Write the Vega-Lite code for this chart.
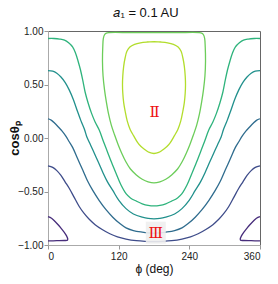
{
"$schema":"https://vega.github.io/schema/vega-lite/v6.json",
"width":212,"height":214,
"autosize":{"type":"none"},
"padding":{"left":48,"top":31,"right":18,"bottom":39},
"title":{"text":"𝑎₁ = 0.1 AU","fontSize":13,"font":"Liberation Sans","fontWeight":"normal","color":"#111","offset":6,"dx":-8},
"config":{"view":{"stroke":"#666","strokeWidth":1},
"axis":{"grid":false,"domainColor":"#aaa","tickColor":"#999","tickSize":4,"labelFont":"Liberation Sans Narrow, Liberation Sans","labelFontSize":10,"labelColor":"#222","titleFont":"Liberation Sans","titleColor":"#111"}},
"datasets":{
"contours":[
{"s":"A","i":0,"x":0,"y":0.93},{"s":"A","i":1,"x":10,"y":0.93},{"s":"A","i":2,"x":20,"y":0.925},{"s":"A","i":3,"x":28,"y":0.915},{"s":"A","i":4,"x":35,"y":0.89},{"s":"A","i":5,"x":42,"y":0.85},{"s":"A","i":6,"x":47,"y":0.79},{"s":"A","i":7,"x":51,"y":0.72},{"s":"A","i":8,"x":55,"y":0.64},{"s":"A","i":9,"x":59,"y":0.54},{"s":"A","i":10,"x":63,"y":0.43},{"s":"A","i":11,"x":68,"y":0.33},{"s":"A","i":12,"x":74,"y":0.23},{"s":"A","i":13,"x":80,"y":0.15},{"s":"A","i":14,"x":87,"y":0.075},{"s":"A","i":15,"x":94,"y":-0.03},{"s":"A","i":16,"x":101,"y":-0.13},{"s":"A","i":17,"x":108,"y":-0.23},{"s":"A","i":18,"x":115.5,"y":-0.33},{"s":"A","i":19,"x":124,"y":-0.44},{"s":"A","i":20,"x":132.5,"y":-0.52},{"s":"A","i":21,"x":140,"y":-0.56},{"s":"A","i":22,"x":150,"y":-0.59},{"s":"A","i":23,"x":160,"y":-0.615},{"s":"A","i":24,"x":170,"y":-0.63},{"s":"A","i":25,"x":180,"y":-0.635},{"s":"A","i":26,"x":190,"y":-0.63},{"s":"A","i":27,"x":200,"y":-0.615},{"s":"A","i":28,"x":210,"y":-0.59},{"s":"A","i":29,"x":220,"y":-0.56},{"s":"A","i":30,"x":227.5,"y":-0.52},{"s":"A","i":31,"x":236,"y":-0.44},{"s":"A","i":32,"x":244.5,"y":-0.33},{"s":"A","i":33,"x":252,"y":-0.23},{"s":"A","i":34,"x":259,"y":-0.13},{"s":"A","i":35,"x":266,"y":-0.03},{"s":"A","i":36,"x":273,"y":0.075},{"s":"A","i":37,"x":280,"y":0.15},{"s":"A","i":38,"x":286,"y":0.23},{"s":"A","i":39,"x":292,"y":0.33},{"s":"A","i":40,"x":297,"y":0.43},{"s":"A","i":41,"x":301,"y":0.54},{"s":"A","i":42,"x":305,"y":0.64},{"s":"A","i":43,"x":309,"y":0.72},{"s":"A","i":44,"x":313,"y":0.79},{"s":"A","i":45,"x":318,"y":0.85},{"s":"A","i":46,"x":325,"y":0.89},{"s":"A","i":47,"x":332,"y":0.915},{"s":"A","i":48,"x":340,"y":0.925},{"s":"A","i":49,"x":350,"y":0.93},{"s":"A","i":50,"x":360,"y":0.93},
{"s":"B","i":0,"x":0,"y":0.63},{"s":"B","i":1,"x":8,"y":0.625},{"s":"B","i":2,"x":15,"y":0.605},{"s":"B","i":3,"x":22,"y":0.57},{"s":"B","i":4,"x":29,"y":0.52},{"s":"B","i":5,"x":36,"y":0.45},{"s":"B","i":6,"x":43,"y":0.36},{"s":"B","i":7,"x":50,"y":0.25},{"s":"B","i":8,"x":56,"y":0.16},{"s":"B","i":9,"x":62,"y":0.08},{"s":"B","i":10,"x":66,"y":0.01},{"s":"B","i":11,"x":71,"y":-0.05},{"s":"B","i":12,"x":76,"y":-0.11},{"s":"B","i":13,"x":85,"y":-0.22},{"s":"B","i":14,"x":93,"y":-0.32},{"s":"B","i":15,"x":101,"y":-0.41},{"s":"B","i":16,"x":110,"y":-0.49},{"s":"B","i":17,"x":120,"y":-0.58},{"s":"B","i":18,"x":132.5,"y":-0.66},{"s":"B","i":19,"x":145,"y":-0.71},{"s":"B","i":20,"x":160,"y":-0.74},{"s":"B","i":21,"x":170,"y":-0.752},{"s":"B","i":22,"x":180,"y":-0.755},{"s":"B","i":23,"x":190,"y":-0.752},{"s":"B","i":24,"x":200,"y":-0.74},{"s":"B","i":25,"x":215,"y":-0.71},{"s":"B","i":26,"x":227.5,"y":-0.66},{"s":"B","i":27,"x":240,"y":-0.58},{"s":"B","i":28,"x":250,"y":-0.49},{"s":"B","i":29,"x":259,"y":-0.41},{"s":"B","i":30,"x":267,"y":-0.32},{"s":"B","i":31,"x":275,"y":-0.22},{"s":"B","i":32,"x":284,"y":-0.11},{"s":"B","i":33,"x":289,"y":-0.05},{"s":"B","i":34,"x":294,"y":0.01},{"s":"B","i":35,"x":298,"y":0.08},{"s":"B","i":36,"x":304,"y":0.16},{"s":"B","i":37,"x":310,"y":0.25},{"s":"B","i":38,"x":317,"y":0.36},{"s":"B","i":39,"x":324,"y":0.45},{"s":"B","i":40,"x":331,"y":0.52},{"s":"B","i":41,"x":338,"y":0.57},{"s":"B","i":42,"x":345,"y":0.605},{"s":"B","i":43,"x":352,"y":0.625},{"s":"B","i":44,"x":360,"y":0.63},
{"s":"C","i":0,"x":0,"y":0.18},{"s":"C","i":1,"x":6,"y":0.165},{"s":"C","i":2,"x":12,"y":0.135},{"s":"C","i":3,"x":18,"y":0.1},{"s":"C","i":4,"x":24,"y":0.065},{"s":"C","i":5,"x":30,"y":0.02},{"s":"C","i":6,"x":36,"y":-0.035},{"s":"C","i":7,"x":42,"y":-0.09},{"s":"C","i":8,"x":50,"y":-0.19},{"s":"C","i":9,"x":59,"y":-0.3},{"s":"C","i":10,"x":67,"y":-0.4},{"s":"C","i":11,"x":76,"y":-0.49},{"s":"C","i":12,"x":87,"y":-0.585},{"s":"C","i":13,"x":98.5,"y":-0.67},{"s":"C","i":14,"x":110,"y":-0.74},{"s":"C","i":15,"x":122,"y":-0.8},{"s":"C","i":16,"x":132.5,"y":-0.84},{"s":"C","i":17,"x":145,"y":-0.865},{"s":"C","i":18,"x":160,"y":-0.88},{"s":"C","i":19,"x":170,"y":-0.887},{"s":"C","i":20,"x":180,"y":-0.89},{"s":"C","i":21,"x":190,"y":-0.887},{"s":"C","i":22,"x":200,"y":-0.88},{"s":"C","i":23,"x":215,"y":-0.865},{"s":"C","i":24,"x":227.5,"y":-0.84},{"s":"C","i":25,"x":238,"y":-0.8},{"s":"C","i":26,"x":250,"y":-0.74},{"s":"C","i":27,"x":261.5,"y":-0.67},{"s":"C","i":28,"x":273,"y":-0.585},{"s":"C","i":29,"x":284,"y":-0.49},{"s":"C","i":30,"x":293,"y":-0.4},{"s":"C","i":31,"x":301,"y":-0.3},{"s":"C","i":32,"x":310,"y":-0.19},{"s":"C","i":33,"x":318,"y":-0.09},{"s":"C","i":34,"x":324,"y":-0.035},{"s":"C","i":35,"x":330,"y":0.02},{"s":"C","i":36,"x":336,"y":0.065},{"s":"C","i":37,"x":342,"y":0.1},{"s":"C","i":38,"x":348,"y":0.135},{"s":"C","i":39,"x":354,"y":0.165},{"s":"C","i":40,"x":360,"y":0.18},
{"s":"D","i":0,"x":0,"y":-0.26},{"s":"D","i":1,"x":8,"y":-0.275},{"s":"D","i":2,"x":15,"y":-0.305},{"s":"D","i":3,"x":22,"y":-0.35},{"s":"D","i":4,"x":29,"y":-0.41},{"s":"D","i":5,"x":36,"y":-0.47},{"s":"D","i":6,"x":44,"y":-0.55},{"s":"D","i":7,"x":53,"y":-0.64},{"s":"D","i":8,"x":62,"y":-0.71},{"s":"D","i":9,"x":70,"y":-0.76},{"s":"D","i":10,"x":80,"y":-0.81},{"s":"D","i":11,"x":92,"y":-0.855},{"s":"D","i":12,"x":105,"y":-0.895},{"s":"D","i":13,"x":118,"y":-0.925},{"s":"D","i":14,"x":132.5,"y":-0.945},{"s":"D","i":15,"x":150,"y":-0.96},{"s":"D","i":16,"x":165,"y":-0.966},{"s":"D","i":17,"x":180,"y":-0.968},{"s":"D","i":18,"x":195,"y":-0.966},{"s":"D","i":19,"x":210,"y":-0.96},{"s":"D","i":20,"x":227.5,"y":-0.945},{"s":"D","i":21,"x":242,"y":-0.925},{"s":"D","i":22,"x":255,"y":-0.895},{"s":"D","i":23,"x":268,"y":-0.855},{"s":"D","i":24,"x":280,"y":-0.81},{"s":"D","i":25,"x":290,"y":-0.76},{"s":"D","i":26,"x":298,"y":-0.71},{"s":"D","i":27,"x":307,"y":-0.64},{"s":"D","i":28,"x":316,"y":-0.55},{"s":"D","i":29,"x":324,"y":-0.47},{"s":"D","i":30,"x":331,"y":-0.41},{"s":"D","i":31,"x":338,"y":-0.35},{"s":"D","i":32,"x":345,"y":-0.305},{"s":"D","i":33,"x":352,"y":-0.275},{"s":"D","i":34,"x":360,"y":-0.26},
{"s":"E1","i":0,"x":0,"y":-0.735},{"s":"E1","i":1,"x":6,"y":-0.75},{"s":"E1","i":2,"x":12,"y":-0.78},{"s":"E1","i":3,"x":18,"y":-0.815},{"s":"E1","i":4,"x":23,"y":-0.85},{"s":"E1","i":5,"x":28,"y":-0.885},{"s":"E1","i":6,"x":31.5,"y":-0.915},{"s":"E1","i":7,"x":33.5,"y":-0.945},{"s":"E1","i":8,"x":33,"y":-0.955},{"s":"E1","i":9,"x":28,"y":-0.958},{"s":"E1","i":10,"x":15,"y":-0.96},{"s":"E1","i":11,"x":0,"y":-0.962},
{"s":"E2","i":0,"x":360,"y":-0.735},{"s":"E2","i":1,"x":354,"y":-0.75},{"s":"E2","i":2,"x":348,"y":-0.78},{"s":"E2","i":3,"x":342,"y":-0.815},{"s":"E2","i":4,"x":337,"y":-0.85},{"s":"E2","i":5,"x":332,"y":-0.885},{"s":"E2","i":6,"x":328.5,"y":-0.915},{"s":"E2","i":7,"x":326.5,"y":-0.945},{"s":"E2","i":8,"x":327,"y":-0.955},{"s":"E2","i":9,"x":332,"y":-0.958},{"s":"E2","i":10,"x":345,"y":-0.96},{"s":"E2","i":11,"x":360,"y":-0.962},
{"s":"G","i":0,"x":180,"y":0.985},{"s":"G","i":1,"x":140,"y":0.985},{"s":"G","i":2,"x":104,"y":0.985},{"s":"G","i":3,"x":99,"y":0.98},{"s":"G","i":4,"x":96,"y":0.965},{"s":"G","i":5,"x":94,"y":0.93},{"s":"G","i":6,"x":93,"y":0.85},{"s":"G","i":7,"x":92.5,"y":0.72},{"s":"G","i":8,"x":93.5,"y":0.58},{"s":"G","i":9,"x":96,"y":0.45},{"s":"G","i":10,"x":99,"y":0.34},{"s":"G","i":11,"x":103,"y":0.22},{"s":"G","i":12,"x":107.5,"y":0.12},{"s":"G","i":13,"x":113,"y":0.03},{"s":"G","i":14,"x":119,"y":-0.06},{"s":"G","i":15,"x":125,"y":-0.14},{"s":"G","i":16,"x":132,"y":-0.22},{"s":"G","i":17,"x":140,"y":-0.29},{"s":"G","i":18,"x":150,"y":-0.345},{"s":"G","i":19,"x":160,"y":-0.385},{"s":"G","i":20,"x":170,"y":-0.41},{"s":"G","i":21,"x":180,"y":-0.42},{"s":"G","i":22,"x":190,"y":-0.41},{"s":"G","i":23,"x":200,"y":-0.385},{"s":"G","i":24,"x":210,"y":-0.345},{"s":"G","i":25,"x":220,"y":-0.29},{"s":"G","i":26,"x":228,"y":-0.22},{"s":"G","i":27,"x":235,"y":-0.14},{"s":"G","i":28,"x":241,"y":-0.06},{"s":"G","i":29,"x":247,"y":0.03},{"s":"G","i":30,"x":252.5,"y":0.12},{"s":"G","i":31,"x":257,"y":0.22},{"s":"G","i":32,"x":261,"y":0.34},{"s":"G","i":33,"x":264,"y":0.45},{"s":"G","i":34,"x":266.5,"y":0.58},{"s":"G","i":35,"x":267.5,"y":0.72},{"s":"G","i":36,"x":267,"y":0.85},{"s":"G","i":37,"x":266,"y":0.93},{"s":"G","i":38,"x":264,"y":0.965},{"s":"G","i":39,"x":261,"y":0.98},{"s":"G","i":40,"x":256,"y":0.985},{"s":"G","i":41,"x":220,"y":0.985},{"s":"G","i":42,"x":180,"y":0.985},
{"s":"Y","i":0,"x":180,"y":0.9},{"s":"Y","i":1,"x":168,"y":0.897},{"s":"Y","i":2,"x":157,"y":0.89},{"s":"Y","i":3,"x":147,"y":0.875},{"s":"Y","i":4,"x":139,"y":0.85},{"s":"Y","i":5,"x":134,"y":0.81},{"s":"Y","i":6,"x":131,"y":0.75},{"s":"Y","i":7,"x":128.5,"y":0.67},{"s":"Y","i":8,"x":127,"y":0.58},{"s":"Y","i":9,"x":126.5,"y":0.5},{"s":"Y","i":10,"x":127,"y":0.42},{"s":"Y","i":11,"x":128.5,"y":0.33},{"s":"Y","i":12,"x":131,"y":0.25},{"s":"Y","i":13,"x":134.5,"y":0.16},{"s":"Y","i":14,"x":139.5,"y":0.08},{"s":"Y","i":15,"x":145.5,"y":0.02},{"s":"Y","i":16,"x":152,"y":-0.04},{"s":"Y","i":17,"x":158,"y":-0.08},{"s":"Y","i":18,"x":165,"y":-0.11},{"s":"Y","i":19,"x":172,"y":-0.135},{"s":"Y","i":20,"x":180,"y":-0.145},{"s":"Y","i":21,"x":188,"y":-0.135},{"s":"Y","i":22,"x":195,"y":-0.11},{"s":"Y","i":23,"x":202,"y":-0.08},{"s":"Y","i":24,"x":208,"y":-0.04},{"s":"Y","i":25,"x":214.5,"y":0.02},{"s":"Y","i":26,"x":220.5,"y":0.08},{"s":"Y","i":27,"x":225.5,"y":0.16},{"s":"Y","i":28,"x":229,"y":0.25},{"s":"Y","i":29,"x":231.5,"y":0.33},{"s":"Y","i":30,"x":233,"y":0.42},{"s":"Y","i":31,"x":233.5,"y":0.5},{"s":"Y","i":32,"x":233,"y":0.58},{"s":"Y","i":33,"x":231.5,"y":0.67},{"s":"Y","i":34,"x":229,"y":0.75},{"s":"Y","i":35,"x":226,"y":0.81},{"s":"Y","i":36,"x":221,"y":0.85},{"s":"Y","i":37,"x":213,"y":0.875},{"s":"Y","i":38,"x":203,"y":0.89},{"s":"Y","i":39,"x":192,"y":0.897},{"s":"Y","i":40,"x":180,"y":0.9}
],
"labels":[{"t":"Ⅱ","x":181,"y":0.24,"box":"no"},{"t":"Ⅲ","x":183,"y":-0.885,"box":"yes"}]
},
"layer":[
{"data":{"name":"contours"},
"mark":{"type":"line","strokeWidth":1.3,"interpolate":"catmull-rom"},
"encoding":{
"x":{"field":"x","type":"quantitative","scale":{"domain":[0,360],"nice":false,"zero":false},"axis":{"values":[0,60,120,180,240,300,360],"title":"ϕ (deg)","titleFontSize":12,"titleFontWeight":"normal","labelPadding":2,"titlePadding":2}},
"y":{"field":"y","type":"quantitative","scale":{"domain":[-1,1],"nice":false,"zero":false},"axis":{"values":[-1,-0.75,-0.5,-0.25,0,0.25,0.5,0.75,1],"format":".2f","title":"cosθₚ","titleFontSize":13,"titleFontWeight":"bold","labelPadding":1,"titleX":-34,"titleY":107,"titleAngle":-90,"titleAlign":"center","titleBaseline":"middle"}},
"color":{"field":"s","type":"nominal","scale":{"domain":["E1","E2","D","C","B","A","G","Y"],"range":["#472d7b","#472d7b","#3e4c8a","#2f6c8e","#21908c","#2eb37c","#6ccd5a","#b2dd2c"]},"legend":null},
"detail":{"field":"s"},
"order":{"field":"i","type":"quantitative"}}},
{"data":{"name":"labels"},"transform":[{"filter":"datum.box == 'yes'"}],
"mark":{"type":"point","filled":true,"shape":"M-1,-1.1H1V1.1H-1Z","size":400,"color":"#eeeeee","opacity":0.9},
"encoding":{"x":{"field":"x","type":"quantitative"},"y":{"field":"y","type":"quantitative"}}},
{"data":{"name":"labels"},
"mark":{"type":"text","color":"#ee1111","font":"DejaVu Serif","fontSize":15,"baseline":"middle","align":"center"},
"encoding":{"x":{"field":"x","type":"quantitative"},"y":{"field":"y","type":"quantitative"},"text":{"field":"t"}}}
]
}
